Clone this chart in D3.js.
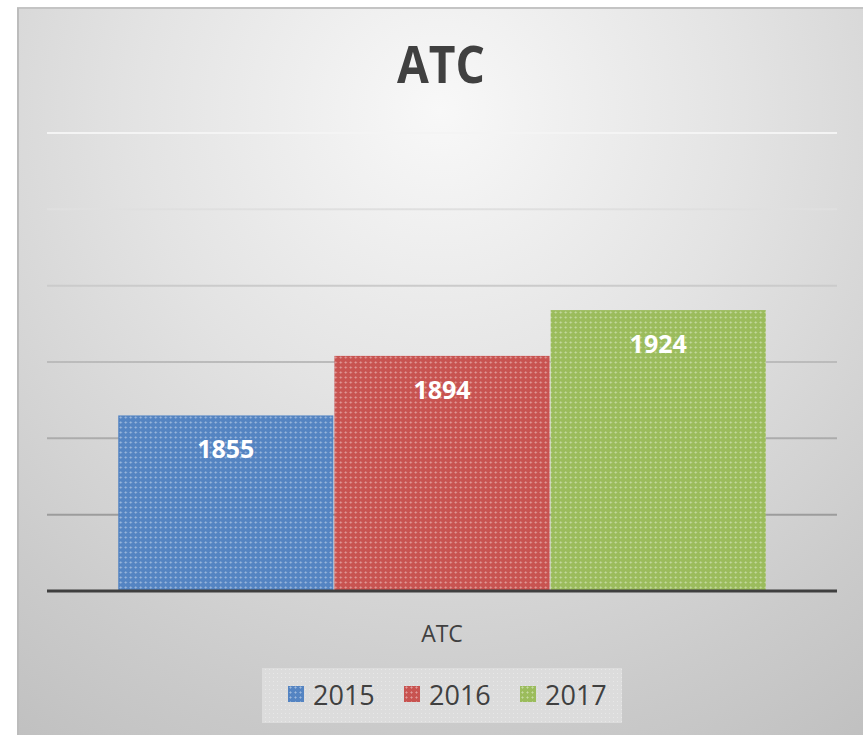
<!DOCTYPE html>
<html><head><meta charset="utf-8">
<script src="https://cdn.jsdelivr.net/npm/d3@7"></script>
<style>html,body{margin:0;padding:0;background:#fff;}svg{display:block;}</style>
</head><body>
<script>
const title = "ATC";
const categories = ["ATC"];
const seriesNames = ["2015", "2016", "2017"];
const seriesValues = [1855, 1894, 1924];
const yTicks = [1740, 1790, 1840, 1890, 1940, 1990, 2040];
const colors = ["#5484c2", "#c85350", "#9bbc5c"];

const W = 863, H = 735;
const svg = d3.select("body").append("svg").attr("width", W).attr("height", H);
const defs = svg.append("defs");

const bg = defs.append("radialGradient").attr("id","bg")
  .attr("gradientUnits","userSpaceOnUse").attr("cx",440).attr("cy",110).attr("r",760);
bg.append("stop").attr("offset","0").attr("stop-color","#f8f8f8");
bg.append("stop").attr("offset","0.4").attr("stop-color","#e3e3e3");
bg.append("stop").attr("offset","0.8").attr("stop-color","#cbcbcb");
bg.append("stop").attr("offset","1").attr("stop-color","#c0c0c0");

const gg = defs.append("linearGradient").attr("id","grid")
  .attr("gradientUnits","userSpaceOnUse").attr("x1",0).attr("x2",0).attr("y1",133).attr("y2",514);
gg.append("stop").attr("offset","0").attr("stop-color","#f4f4f4");
gg.append("stop").attr("offset","0.4").attr("stop-color","#cbcbcb");
gg.append("stop").attr("offset","1").attr("stop-color","#9c9c9c");

colors.forEach((c,i)=>{
  const p = defs.append("pattern").attr("id","pat"+i).attr("patternUnits","userSpaceOnUse")
    .attr("width",5).attr("height",5);
  p.append("rect").attr("width",5).attr("height",5).attr("fill",c);
  p.append("rect").attr("x",2).attr("y",1).attr("width",1).attr("height",3).attr("fill","#fff").attr("opacity",0.25);
  p.append("rect").attr("x",1).attr("y",2).attr("width",3).attr("height",1).attr("fill","#fff").attr("opacity",0.25);
});
const lp = defs.append("pattern").attr("id","legpat").attr("patternUnits","userSpaceOnUse").attr("width",4).attr("height",4);
lp.append("rect").attr("width",4).attr("height",4).attr("fill","#dcdcdc");
lp.append("rect").attr("x",1).attr("y",1).attr("width",1).attr("height",1).attr("fill","#e8e8e8");

// chart area
svg.append("rect").attr("x",17).attr("y",8).attr("width",W-17).attr("height",H-8).attr("fill","url(#bg)");
svg.append("line").attr("x1",17).attr("x2",W).attr("y1",8).attr("y2",8).attr("stroke","#c4c4c4").attr("stroke-width",2);
svg.append("line").attr("x1",18).attr("x2",18).attr("y1",8).attr("y2",H).attr("stroke","#bcbcbc").attr("stroke-width",2);

const plotL = 47, plotR = 837, plotT = 133, plotB = 591;
const y = d3.scaleLinear().domain([yTicks[0], yTicks[yTicks.length-1]]).range([plotB, plotT]);
const x0 = d3.scaleBand().domain(categories).range([plotL, plotR]).paddingInner(0).paddingOuter(0.11);
const x1 = d3.scaleBand().domain(seriesNames).range([0, x0.bandwidth()]).paddingInner(0.005);

// gridlines
svg.append("g").selectAll("line").data(yTicks.slice(1)).join("line")
  .attr("x1",plotL).attr("x2",plotR).attr("y1",d=>y(d)).attr("y2",d=>y(d))
  .attr("stroke","url(#grid)").attr("stroke-width",2);

// bars
const g = svg.append("g").attr("transform",`translate(${x0(categories[0])},0)`);
g.selectAll("rect").data(seriesValues).join("rect")
  .attr("x",(d,i)=>x1(seriesNames[i])).attr("width",x1.bandwidth())
  .attr("y",d=>y(d)).attr("height",d=>plotB-y(d))
  .attr("fill",(d,i)=>`url(#pat${i})`);
g.selectAll("text").data(seriesValues).join("text")
  .attr("x",(d,i)=>x1(seriesNames[i])+x1.bandwidth()/2).attr("y",d=>y(d)+43)
  .attr("text-anchor","middle").attr("fill","#fff")
  .style("font-family","'Open Sans', sans-serif").style("font-weight","bold").style("font-size","25px")
  .text(d=>d);

// baseline
svg.append("line").attr("x1",plotL).attr("x2",plotR).attr("y1",plotB).attr("y2",plotB)
  .attr("stroke","#3f3f3f").attr("stroke-width",3);

// category axis label
svg.append("text").attr("x",x0(categories[0])+x0.bandwidth()/2).attr("y",642).attr("text-anchor","middle")
  .attr("fill","#404040").style("font-family","'Open Sans', sans-serif").style("font-size","23px").text(categories[0]);

// title
svg.append("text").attr("x",441).attr("y",83).attr("text-anchor","middle").attr("fill","#404040")
  .style("font-family","'Open Sans', sans-serif").style("font-weight","bold").style("font-size","52px")
  .attr("textLength",88).attr("lengthAdjust","spacingAndGlyphs").text(title);

// legend
svg.append("rect").attr("x",262).attr("y",668).attr("width",360).attr("height",55).attr("fill","url(#legpat)");
const lg = svg.append("g").selectAll("g").data(seriesNames).join("g")
  .attr("transform",(d,i)=>`translate(${288+i*116},0)`);
lg.append("rect").attr("x",0).attr("y",686).attr("width",16).attr("height",16).attr("fill",(d,i)=>`url(#pat${i})`);
lg.append("text").attr("x",25).attr("y",705).attr("fill","#404040")
  .style("font-family","'Open Sans', sans-serif").style("font-size","27px").text(d=>d);
</script>
</body></html>
